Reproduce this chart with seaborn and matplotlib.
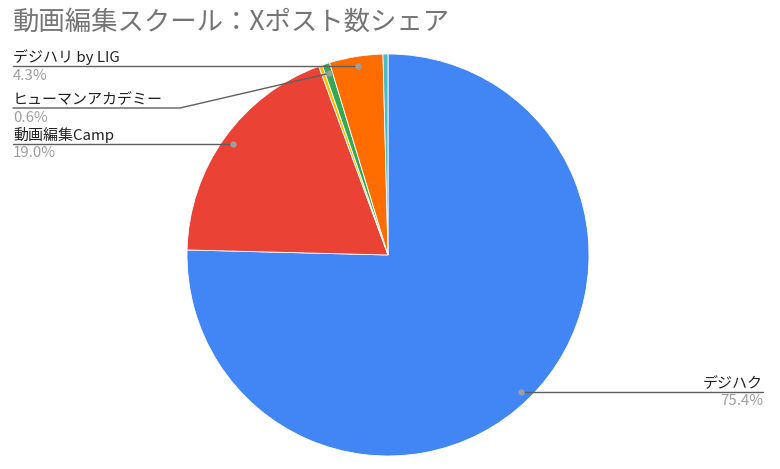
import numpy as np
import matplotlib
matplotlib.use('Agg')
import matplotlib.pyplot as plt
import seaborn as sns

# データ（時計回り、12時の位置から）
schools = ['デジハク', '動画編集Camp', 'その他A', 'ヒューマンアカデミー', 'デジハリ by LIG', 'その他B']
shares = [75.4, 19.0, 0.3, 0.6, 4.3, 0.4]
show_label = [True, True, False, True, True, False]
colors = ['#4285F4', '#EA4335', '#FBBC04', '#34A853', '#FF6D01', '#46BDC6']

sns.set_theme(style='white')
plt.rcParams['font.family'] = ['Noto Sans CJK JP', 'DejaVu Sans']

W, H = 780, 469
fig = plt.figure(figsize=(W / 100, H / 100), dpi=100)
ax = fig.add_axes([0, 0, 1, 1])

cx, cy, R = 388, H - 255, 201
wedges, _ = ax.pie(shares, colors=colors, startangle=90, counterclock=False,
                   center=(cx, cy), radius=R, frame=True,
                   wedgeprops=dict(edgecolor='white', linewidth=0.6))
ax.set_xlim(0, W)
ax.set_ylim(0, H)
ax.set_aspect('equal')
ax.axis('off')

fig.text(13 / W, 1 - 22 / H, '動画編集スクール：Xポスト数シェア', fontsize=19,
         color='#757575', va='center', ha='left')

# ラベルの配置（画面上のy位置, 左/右）
label_layout = {
    'デジハリ by LIG': (None, 'left'),
    'ヒューマンアカデミー': (108, 'left'),
    '動画編集Camp': (None, 'left'),
    'デジハク': (None, 'right'),
}

line_col = '#5f5f5f'
fs = 10.8
for w, name, val, show in zip(wedges, schools, shares, show_label):
    if not show:
        continue
    mid = np.deg2rad((w.theta1 + w.theta2) / 2)
    dx = cx + 0.95 * R * np.cos(mid)
    dy = cy + 0.95 * R * np.sin(mid)
    ly, side = label_layout[name]
    ax.plot(dx, dy, 'o', color='#9e9e9e', ms=3.5, zorder=5, clip_on=False)
    if side == 'left':
        if ly is None:
            yline = dy
            xs, ys = [13, dx], [yline, yline]
        else:
            yline = H - ly
            xs, ys = [13, 180, dx], [yline, yline, dy]
        ax.plot(xs, ys, color=line_col, lw=1, zorder=4, clip_on=False)
        ax.text(13, yline + 1, name, fontsize=fs, color='#222222', ha='left', va='bottom')
        ax.text(13, yline - 2.5, f'{val:.1f}%', fontsize=fs, color='#9e9e9e', ha='left', va='top')
    else:
        yline = dy
        ax.plot([dx, 763], [yline, yline], color=line_col, lw=1, zorder=4, clip_on=False)
        ax.text(763, yline + 1, name, fontsize=fs, color='#222222', ha='right', va='bottom')
        ax.text(763, yline - 2.5, f'{val:.1f}%', fontsize=fs, color='#9e9e9e', ha='right', va='top')

fig.savefig('out.png', dpi=100, facecolor='white')
